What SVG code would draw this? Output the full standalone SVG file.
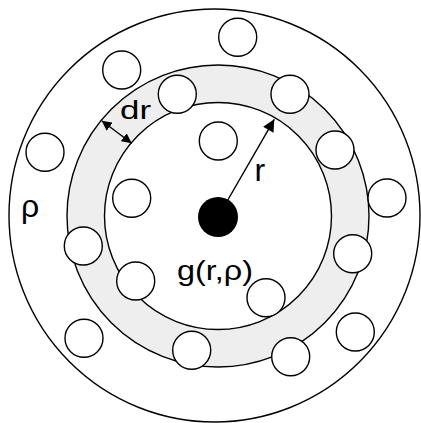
<svg xmlns="http://www.w3.org/2000/svg" width="421" height="423" viewBox="0 0 421 423">
<style>
.ln{fill:none;stroke:#000;stroke-width:1.4}
.p{fill:#fff;stroke:#000;stroke-width:1.4}
.t{font-family:"Liberation Sans",Arial,sans-serif;fill:#000}
.ar{stroke:#000;stroke-width:1.4;fill:none}
</style>
<defs>
<marker id="ah" viewBox="0 0 10 10" refX="10" refY="5" markerWidth="10" markerHeight="10" markerUnits="userSpaceOnUse" orient="auto-start-reverse">
<path d="M0,0 L10,5 L0,10 Z" fill="#000"/>
</marker>
<marker id="ahL" viewBox="0 0 10 10" refX="10" refY="5" markerWidth="15" markerHeight="12" markerUnits="userSpaceOnUse" orient="auto">
<path d="M0,0 L10,5 L0,10 Z" fill="#000"/>
</marker>
</defs>
<rect width="421" height="423" fill="#fff"/>
<g id="outer">
<ellipse class="ln" cx="214.5" cy="215.5" rx="205.5" ry="206.5"/>
</g>
<g id="shell">
<path d="M218,216 m-151,0 a151,151 0 1,0 302,0 a151,151 0 1,0 -302,0 Z M218,216 m-113.5,0 a113.5,113.5 0 1,1 227,0 a113.5,113.5 0 1,1 -227,0 Z" fill="#eeeeee" fill-rule="evenodd"/>
<circle class="ln" cx="218" cy="216" r="151"/>
<circle class="ln" cx="218" cy="216" r="113.5"/>
</g>
<g id="particles">
<circle class="p" cx="237.7" cy="37.3" r="19"/>
<circle class="p" cx="121.7" cy="70" r="19"/>
<circle class="p" cx="177.3" cy="94.3" r="19"/>
<circle class="p" cx="290" cy="94.3" r="19"/>
<circle class="p" cx="218.3" cy="141" r="19"/>
<circle class="p" cx="45" cy="152.3" r="19"/>
<circle class="p" cx="335" cy="150" r="19"/>
<circle class="p" cx="131.7" cy="198.3" r="19"/>
<circle class="p" cx="387" cy="198" r="19"/>
<circle class="p" cx="83.3" cy="246" r="19"/>
<circle class="p" cx="135.7" cy="281" r="19"/>
<circle class="p" cx="352.7" cy="253.7" r="19"/>
<circle class="p" cx="266" cy="297.7" r="19"/>
<circle class="p" cx="84" cy="338.3" r="19"/>
<circle class="p" cx="191.7" cy="350.3" r="19"/>
<circle class="p" cx="290.7" cy="356.7" r="19"/>
<circle class="p" cx="355.3" cy="332" r="19"/>
</g>
<g id="connectors">
<line class="ar" x1="101.7" y1="120.7" x2="131.7" y2="143.3" marker-start="url(#ah)" marker-end="url(#ah)"/>
<line class="ar" x1="218" y1="217" x2="274.3" y2="119.3" marker-end="url(#ahL)"/>
</g>
<g id="center">
<circle cx="218" cy="217" r="20" fill="#000"/>
</g>
<g id="labels">
<text class="t" x="120" y="119" font-size="26" textLength="31" lengthAdjust="spacingAndGlyphs">dr</text>
<text class="t" x="254.5" y="181" font-size="32">r</text>
<text class="t" x="21" y="217" font-size="32">ρ</text>
<text class="t" x="177" y="280" font-size="28" textLength="76" lengthAdjust="spacingAndGlyphs">g(r,ρ)</text>
</g>
</svg>
